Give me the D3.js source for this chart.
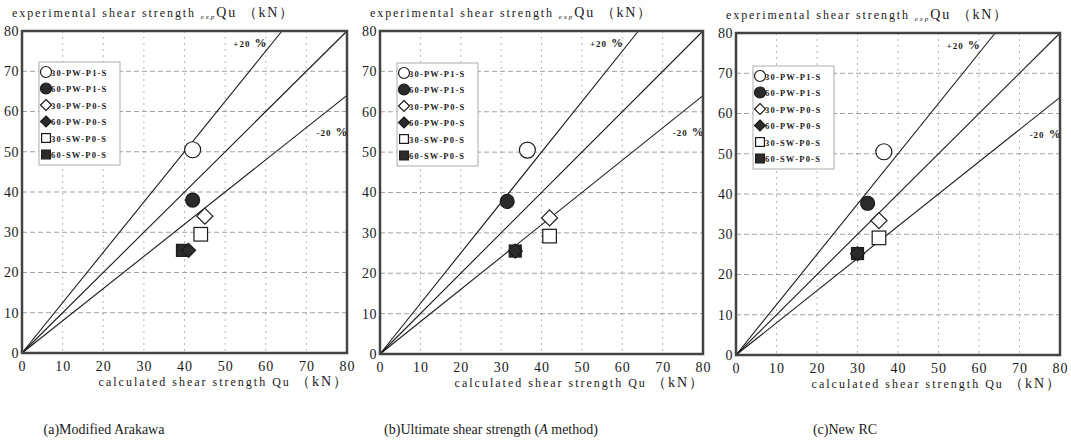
<!DOCTYPE html>
<html>
<head>
<meta charset="utf-8">
<script src="https://cdn.jsdelivr.net/npm/d3@7"></script>
<style>
  body { margin: 0; background: #fff; }
  svg { display: block; }
  svg text { font-family: 'Liberation Serif', 'DejaVu Serif', serif; }
</style>
</head>
<body>
<svg id="chart" width="1071" height="445"></svg>
<script>
// series shown in every panel
const seriesNames = ['30-PW-P1-S', '60-PW-P1-S', '30-PW-P0-S', '60-PW-P0-S', '30-SW-P0-S', '60-SW-P0-S'];
const seriesShapes = ['circle', 'circle', 'diamond', 'diamond', 'square', 'square'];
const seriesFilled = [false, true, false, true, false, true];

// experimental strength expQu
const expQuA = [50.5, 38, 34, 25.5, 29.5, 25.5];
const expQuB = [50.5, 37.8, 33.7, 25.5, 29.2, 25.5];
const expQuC = [50.5, 37.7, 33.4, 25.2, 29.1, 25.2];
// calculated strength Qu per method
const calcArakawa = [42, 42, 45, 41, 44, 39.5];
const calcUltimate = [36.5, 31.5, 42, 33.5, 42, 33.5];
const calcNewRC = [36.5, 32.5, 35.3, 30, 35.3, 30];

const captions = ['(a)Modified Arakawa', '(b)Ultimate shear strength (A method)', '(c)New RC'];
const tickValues = [0, 10, 20, 30, 40, 50, 60, 70, 80];
const ratioLines = [1.25, 1, 0.8];

const panels = [
  { x: calcArakawa, y: expQuA, left: 22, top: 31, right: 347, bottom: 353, legend: [39, 62], caption: captions[0], capX: 104 },
  { x: calcUltimate, y: expQuB, left: 380, top: 31, right: 703, bottom: 354, legend: [397, 63], caption: captions[1], capX: 491 },
  { x: calcNewRC, y: expQuC, left: 736, top: 33, right: 1060, bottom: 355, legend: [753, 66], caption: captions[2], capX: 845 }
];

const svg = d3.select('#chart');
const INK = '#1a1a1a';
const SERIF = "'Liberation Serif', 'DejaVu Serif', serif";

function drawMarker(g, shape, filled, cx, cy, s) {
  const fill = filled ? '#2b2b2b' : '#fff';
  if (shape === 'circle') {
    g.append('circle').attr('cx', cx).attr('cy', cy).attr('r', s)
      .attr('fill', fill).attr('stroke', INK).attr('stroke-width', 1.2);
  } else if (shape === 'diamond') {
    g.append('path')
      .attr('d', `M${cx},${cy - s}L${cx + s},${cy}L${cx},${cy + s}L${cx - s},${cy}Z`)
      .attr('fill', fill).attr('stroke', INK).attr('stroke-width', 1.2);
  } else {
    const h = s * 0.8;
    g.append('rect').attr('x', cx - h).attr('y', cy - h).attr('width', 2 * h).attr('height', 2 * h)
      .attr('fill', fill).attr('stroke', INK).attr('stroke-width', 1.2);
  }
}

function drawPanel(p) {
  const xScale = d3.scaleLinear().domain([0, 80]).range([p.left, p.right]);
  const yScale = d3.scaleLinear().domain([0, 80]).range([p.bottom, p.top]);
  const g = svg.append('g');

  // grid
  g.append('g').selectAll('line').data(tickValues.slice(1, -1)).join('line')
    .attr('x1', (d) => xScale(d)).attr('x2', (d) => xScale(d))
    .attr('y1', p.top).attr('y2', p.bottom)
    .attr('stroke', '#9a9a9a').attr('stroke-width', 0.7).attr('stroke-dasharray', '2,4');
  g.append('g').selectAll('line').data(tickValues.slice(1, -1)).join('line')
    .attr('y1', (d) => yScale(d)).attr('y2', (d) => yScale(d))
    .attr('x1', p.left).attr('x2', p.right)
    .attr('stroke', '#8a8a8a').attr('stroke-width', 0.8).attr('stroke-dasharray', '5,3');

  // axes
  const xAxis = g.append('g').attr('transform', `translate(0,${p.bottom})`)
    .call(d3.axisBottom(xScale).tickValues(tickValues).tickSize(0).tickPadding(8));
  xAxis.select('.domain').remove();
  xAxis.selectAll('text').style('font-family', SERIF).style('font-size', '14px')
    .attr('fill', INK).style('letter-spacing', '1px');
  const yAxis = g.append('g').attr('transform', `translate(${p.left},0)`)
    .call(d3.axisLeft(yScale).tickValues(tickValues).tickSize(0).tickPadding(3));
  yAxis.select('.domain').remove();
  yAxis.selectAll('text').style('font-family', SERIF).style('font-size', '14px')
    .attr('fill', INK).style('letter-spacing', '0.5px');

  // ratio lines from origin
  g.append('g').selectAll('line').data(ratioLines).join('line')
    .attr('x1', xScale(0)).attr('y1', yScale(0))
    .attr('x2', (k) => xScale(Math.min(80, 80 / k)))
    .attr('y2', (k) => yScale(Math.min(80, 80 * k)))
    .attr('stroke', INK).attr('stroke-width', 1.1);

  const plus = g.append('text').attr('x', xScale(52)).attr('y', yScale(76))
    .style('font-size', '9px').attr('font-weight', 'bold').attr('fill', INK).style('letter-spacing', '1px');
  plus.append('tspan').text('+20');
  plus.append('tspan').style('font-size', '12px').text(' %');
  const minus = g.append('text').attr('x', xScale(72.5)).attr('y', yScale(54))
    .style('font-size', '9px').attr('font-weight', 'bold').attr('fill', INK).style('letter-spacing', '1px');
  minus.append('tspan').text('-20');
  minus.append('tspan').style('font-size', '12px').text(' %');

  // frame
  g.append('rect').attr('x', p.left).attr('y', p.top)
    .attr('width', p.right - p.left).attr('height', p.bottom - p.top)
    .attr('fill', 'none').attr('stroke', '#444').attr('stroke-width', 2.5);

  // legend
  const [lx, ly] = p.legend;
  const lg = g.append('g');
  lg.append('rect').attr('x', lx).attr('y', ly).attr('width', 81).attr('height', 103)
    .attr('fill', '#fff').attr('stroke', '#999').attr('stroke-width', 0.8);
  seriesNames.forEach((name, i) => {
    const cy = ly + 10 + i * 16.5;
    drawMarker(lg, seriesShapes[i], seriesFilled[i], lx + 7, cy, 5.5);
    lg.append('text').attr('x', lx + 12).attr('y', cy + 3.5)
      .style('font-size', '8.5px').attr('font-weight', 'bold').attr('fill', INK)
      .style('letter-spacing', '1.2px').text(name);
  });

  // data points (squares first so diamonds sit on top)
  const order = [4, 5, 0, 1, 2, 3];
  const sizes = [8, 7, 8, 7, 8.5, 7.5];
  order.forEach((i) => {
    drawMarker(g, seriesShapes[i], seriesFilled[i], xScale(p.x[i]), yScale(p.y[i]), sizes[i]);
  });

  // axis titles
  const yt = g.append('text').attr('x', p.left - 10).attr('y', p.top - 14)
    .style('font-size', '12px').attr('fill', INK).style('letter-spacing', '1.9px');
  yt.append('tspan').text('experimental shear strength ');
  yt.append('tspan').style('font-size', '7px').attr('font-style', 'italic').attr('dy', 2).text('exp');
  yt.append('tspan').attr('dy', -2).style('font-size', '14px').text('Qu ');
  yt.append('tspan').style('font-size', '14px').text('（kN）');

  const xt = g.append('text').attr('x', p.right + 2).attr('y', p.bottom + 33)
    .attr('text-anchor', 'end').style('font-size', '12px').attr('fill', INK).style('letter-spacing', '2px');
  xt.append('tspan').text('calculated shear strength Qu ');
  xt.append('tspan').style('font-size', '14px').text('（kN）');

  // caption
  const cap = svg.append('text').attr('x', p.capX).attr('y', 434)
    .attr('text-anchor', 'middle').style('font-size', '14px').attr('fill', INK);
  if (p.caption.includes('(A method)')) {
    cap.append('tspan').text('(b)Ultimate shear strength (');
    cap.append('tspan').attr('font-style', 'italic').text('A');
    cap.append('tspan').text(' method)');
  } else {
    cap.text(p.caption);
  }
}

panels.forEach(drawPanel);
</script>
</body>
</html>
